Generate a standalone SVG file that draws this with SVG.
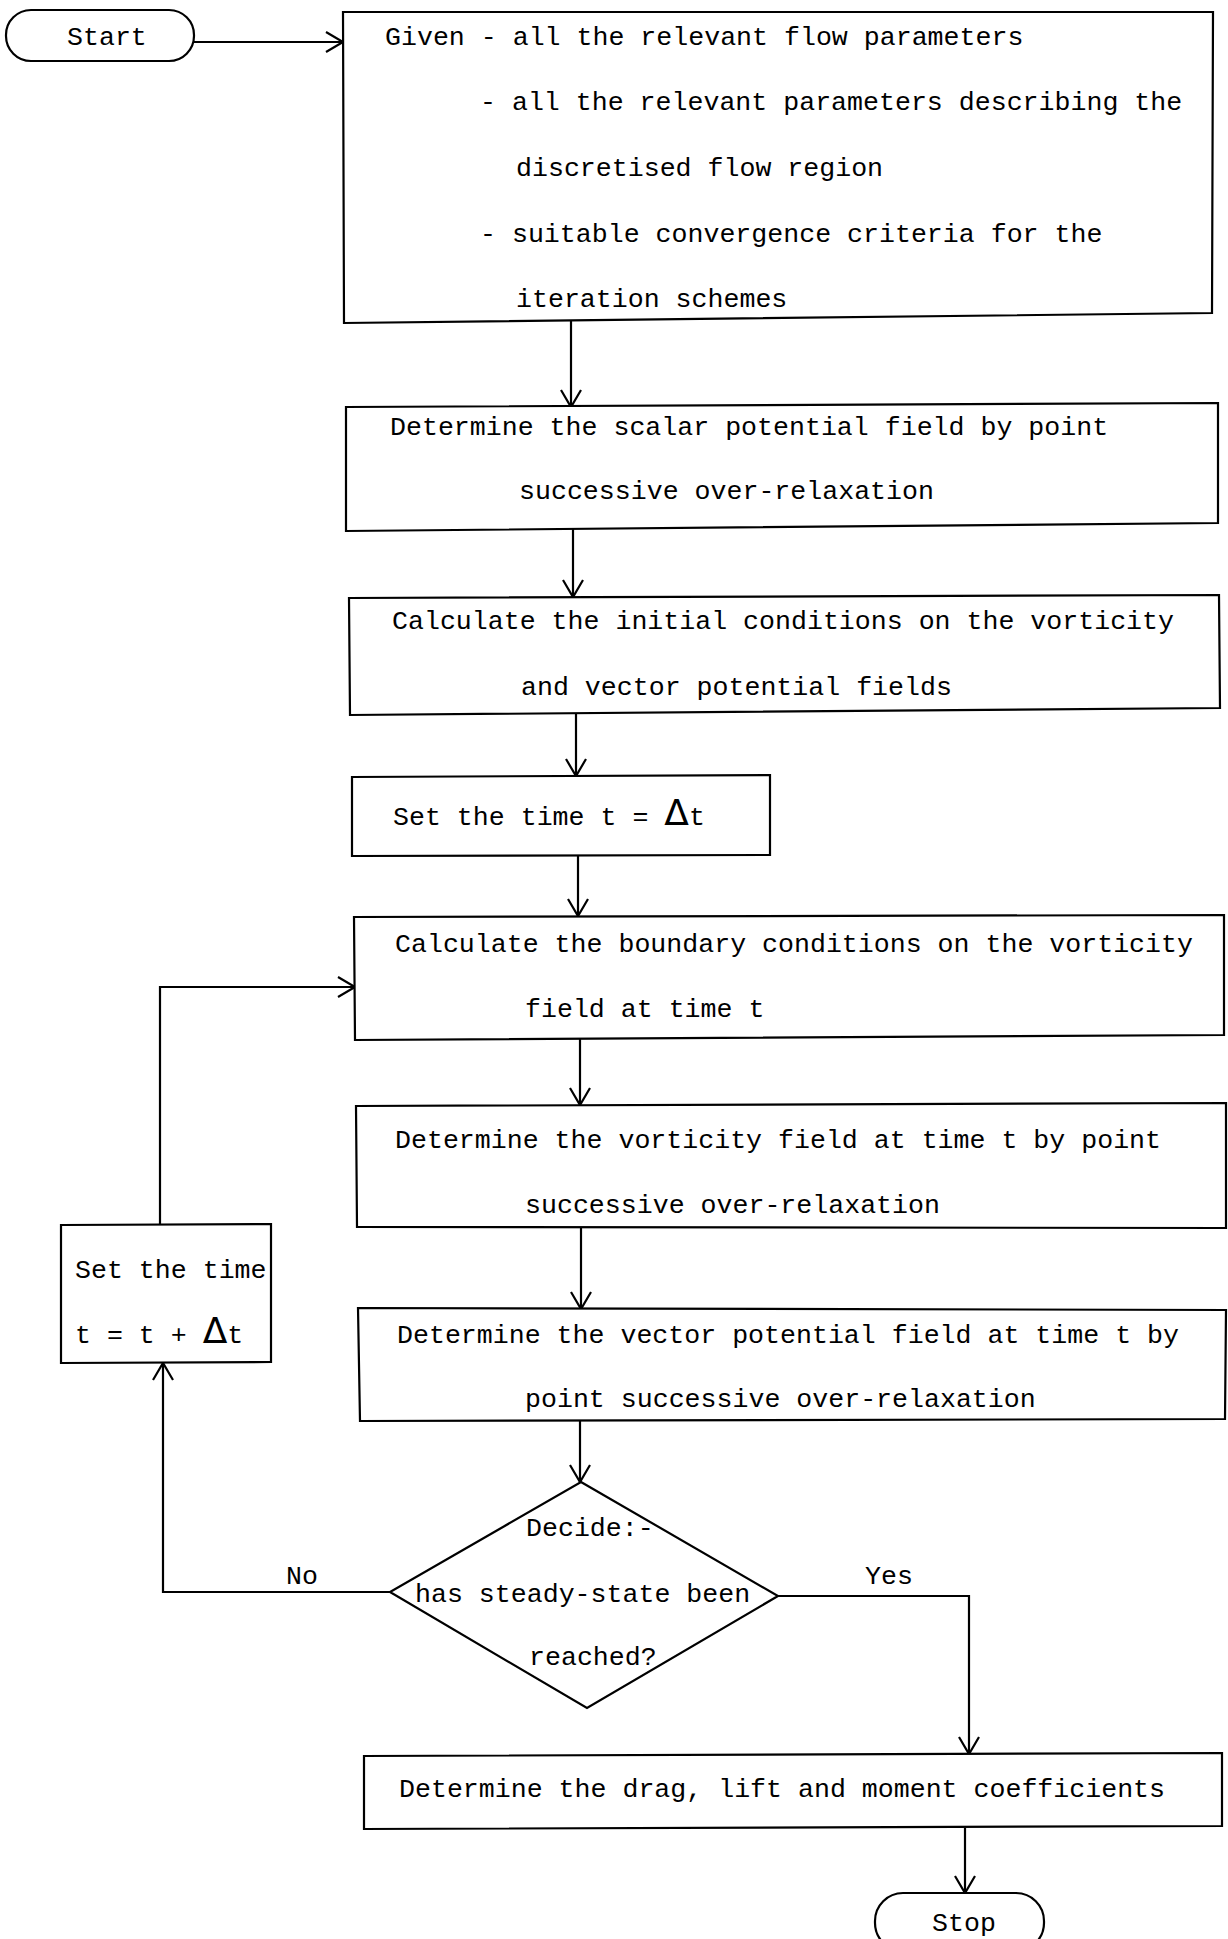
<svg xmlns="http://www.w3.org/2000/svg" width="1228" height="1939" viewBox="0 0 1228 1939">
<defs>
<style>
.box{fill:#fff;stroke:#000;stroke-width:2.2;stroke-linejoin:miter}
.t{font-family:"Liberation Mono","DejaVu Sans Mono",monospace;font-size:26.6px;fill:#000}
.d{font-family:"DejaVu Sans","Liberation Sans",sans-serif;font-size:36px}
.c{fill:none;stroke:#000;stroke-width:2.2}
</style>
<marker id="ah" markerUnits="userSpaceOnUse" markerWidth="24" markerHeight="24" viewBox="-2 -12 22 24" refX="17" refY="0" orient="auto">
<path d="M0,-10 L17,0 L0,10" fill="none" stroke="#000" stroke-width="2.2"/>
</marker>
</defs>
<rect width="1228" height="1939" fill="#fff"/>

<g id="connectors">
<path class="c" d="M194,42 H343" marker-end="url(#ah)"/>
<path class="c" d="M571,320 V407" marker-end="url(#ah)"/>
<path class="c" d="M573,527 V597" marker-end="url(#ah)"/>
<path class="c" d="M576,712 V776" marker-end="url(#ah)"/>
<path class="c" d="M578,856 V916" marker-end="url(#ah)"/>
<path class="c" d="M580,1038 V1105" marker-end="url(#ah)"/>
<path class="c" d="M581,1227 V1309" marker-end="url(#ah)"/>
<path class="c" d="M580,1420 V1482" marker-end="url(#ah)"/>
<path class="c" d="M778,1596 H969 V1754" marker-end="url(#ah)"/>
<path class="c" d="M390,1592 H163 V1363" marker-end="url(#ah)"/>
<path class="c" d="M160,1225 V987 H355" marker-end="url(#ah)"/>
<path class="c" d="M965,1828 V1893" marker-end="url(#ah)"/>
<text class="t" x="286" y="1584">No</text>
<text class="t" x="865" y="1584">Yes</text>
</g>

<g id="start">
<rect class="box" x="6" y="10" width="188" height="51" rx="25" ry="25"/>
<text class="t" x="67" y="45">Start</text>
</g>

<g id="given">
<polygon class="box" points="343,12 1213,12 1212,313 344,323"/>
<text class="t" x="385" y="45">Given - all the relevant flow parameters</text>
<text class="t" x="480" y="110">- all the relevant parameters describing the</text>
<text class="t" x="516" y="176">discretised flow region</text>
<text class="t" x="480" y="242">- suitable convergence criteria for the</text>
<text class="t" x="516" y="307">iteration schemes</text>
</g>

<g id="scalar">
<polygon class="box" points="346,407 1218,403 1218,523 346,531"/>
<text class="t" x="390" y="435">Determine the scalar potential field by point</text>
<text class="t" x="519" y="499">successive over-relaxation</text>
</g>

<g id="initial">
<polygon class="box" points="349,598 1219,595 1220,708 350,715"/>
<text class="t" x="392" y="629">Calculate the initial conditions on the vorticity</text>
<text class="t" x="521" y="695">and vector potential fields</text>
</g>

<g id="settime0">
<polygon class="box" points="352,777 770,775 770,855 352,856"/>
<text class="t" x="393" y="825">Set the time t = <tspan class="d">Δ</tspan>t</text>
</g>

<g id="boundary">
<polygon class="box" points="354,917 1224,915 1224,1035 355,1040"/>
<text class="t" x="395" y="952">Calculate the boundary conditions on the vorticity</text>
<text class="t" x="525" y="1017">field at time t</text>
</g>

<g id="vorticity">
<polygon class="box" points="356,1106 1226,1103 1226,1228 357,1227"/>
<text class="t" x="395" y="1148">Determine the vorticity field at time t by point</text>
<text class="t" x="525" y="1213">successive over-relaxation</text>
</g>

<g id="vector">
<polygon class="box" points="358,1308 1226,1310 1225,1419 360,1421"/>
<text class="t" x="397" y="1343">Determine the vector potential field at time t by</text>
<text class="t" x="525" y="1407">point successive over-relaxation</text>
</g>

<g id="settime">
<polygon class="box" points="61,1225 271,1224 271,1362 61,1363"/>
<text class="t" x="75" y="1278">Set the time</text>
<text class="t" x="75" y="1343">t = t + <tspan class="d">Δ</tspan>t</text>
</g>

<g id="decide">
<polygon class="box" points="581,1482 778,1596 587,1708 390,1592"/>
<text class="t" x="526" y="1536">Decide:-</text>
<text class="t" x="415" y="1602">has steady-state been</text>
<text class="t" x="529" y="1665">reached?</text>
</g>

<g id="coefficients">
<polygon class="box" points="364,1756 1222,1753 1222,1826 364,1829"/>
<text class="t" x="399" y="1797">Determine the drag, lift and moment coefficients</text>
</g>

<g id="stop">
<rect class="box" x="875" y="1893" width="169" height="58" rx="28" ry="28"/>
<text class="t" x="932" y="1931">Stop</text>
</g>
</svg>
